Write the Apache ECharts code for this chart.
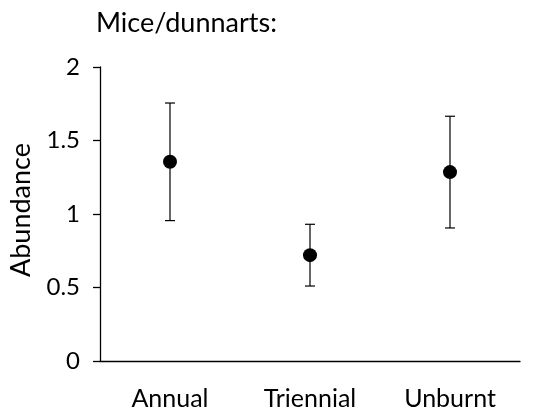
<!DOCTYPE html>
<html>
<head>
<meta charset="utf-8">
<script src="https://cdn.jsdelivr.net/npm/echarts@6/dist/echarts.min.js"></script>
<style>
  html, body { margin: 0; padding: 0; background: #fff; }
  #chart { width: 547px; height: 417px; }
</style>
</head>
<body>
<div id="chart"></div>
<script>
const categories = ['Annual', 'Triennial', 'Unburnt'];
const means = [1.355, 0.72, 1.285];
const upper = [1.755, 0.93, 1.665];
const lower = [0.955, 0.51, 0.905];
const yTicks = [0, 0.5, 1, 1.5, 2];

const FONT = 'Lato';

const chart = echarts.init(document.getElementById('chart'));

const errData = categories.map((c, i) => [i, lower[i], upper[i]]);

chart.setOption({
  animation: false,
  title: {
    text: 'Mice/dunnarts:',
    left: 91,
    top: 5,
    textStyle: { fontFamily: FONT, fontSize: 27, fontWeight: 'normal', color: '#000' }
  },
  grid: { left: 100, right: 27, top: 67, bottom: 56 },
  xAxis: {
    type: 'category',
    data: categories,
    boundaryGap: true,
    axisLine: { lineStyle: { color: '#000', width: 1.3 } },
    axisTick: { show: false },
    axisLabel: { fontFamily: FONT, fontSize: 25, color: '#000', margin: 25 },
    splitLine: { show: false }
  },
  yAxis: {
    type: 'value',
    min: yTicks[0],
    max: yTicks[yTicks.length - 1],
    interval: 0.5,
    name: 'Abundance',
    nameLocation: 'middle',
    nameGap: 65,
    nameTextStyle: { fontFamily: FONT, fontSize: 27, color: '#000', padding: [0, 0, 0, 8] },
    axisLine: { show: true, lineStyle: { color: '#000', width: 1.3 } },
    axisTick: { show: true, inside: false, length: 7, lineStyle: { color: '#000', width: 1.3 } },
    axisLabel: { fontFamily: FONT, fontSize: 24, color: '#000', margin: 20 },
    splitLine: { show: false }
  },
  series: [
    {
      type: 'custom',
      data: errData,
      z: 1,
      renderItem: function (params, api) {
        const x = api.value(0);
        const lo = api.coord([x, api.value(1)]);
        const hi = api.coord([x, api.value(2)]);
        const hw = 5;
        const style = { stroke: '#000', lineWidth: 1.2 };
        return {
          type: 'group',
          children: [
            { type: 'line', shape: { x1: hi[0], y1: hi[1], x2: lo[0], y2: lo[1] }, style: style },
            { type: 'line', shape: { x1: hi[0] - hw, y1: hi[1], x2: hi[0] + hw, y2: hi[1] }, style: style },
            { type: 'line', shape: { x1: lo[0] - hw, y1: lo[1], x2: lo[0] + hw, y2: lo[1] }, style: style }
          ]
        };
      }
    },
    {
      type: 'scatter',
      data: means,
      symbol: 'circle',
      symbolSize: 14,
      z: 2,
      itemStyle: { color: '#000', opacity: 1 }
    }
  ]
});
</script>
</body>
</html>
